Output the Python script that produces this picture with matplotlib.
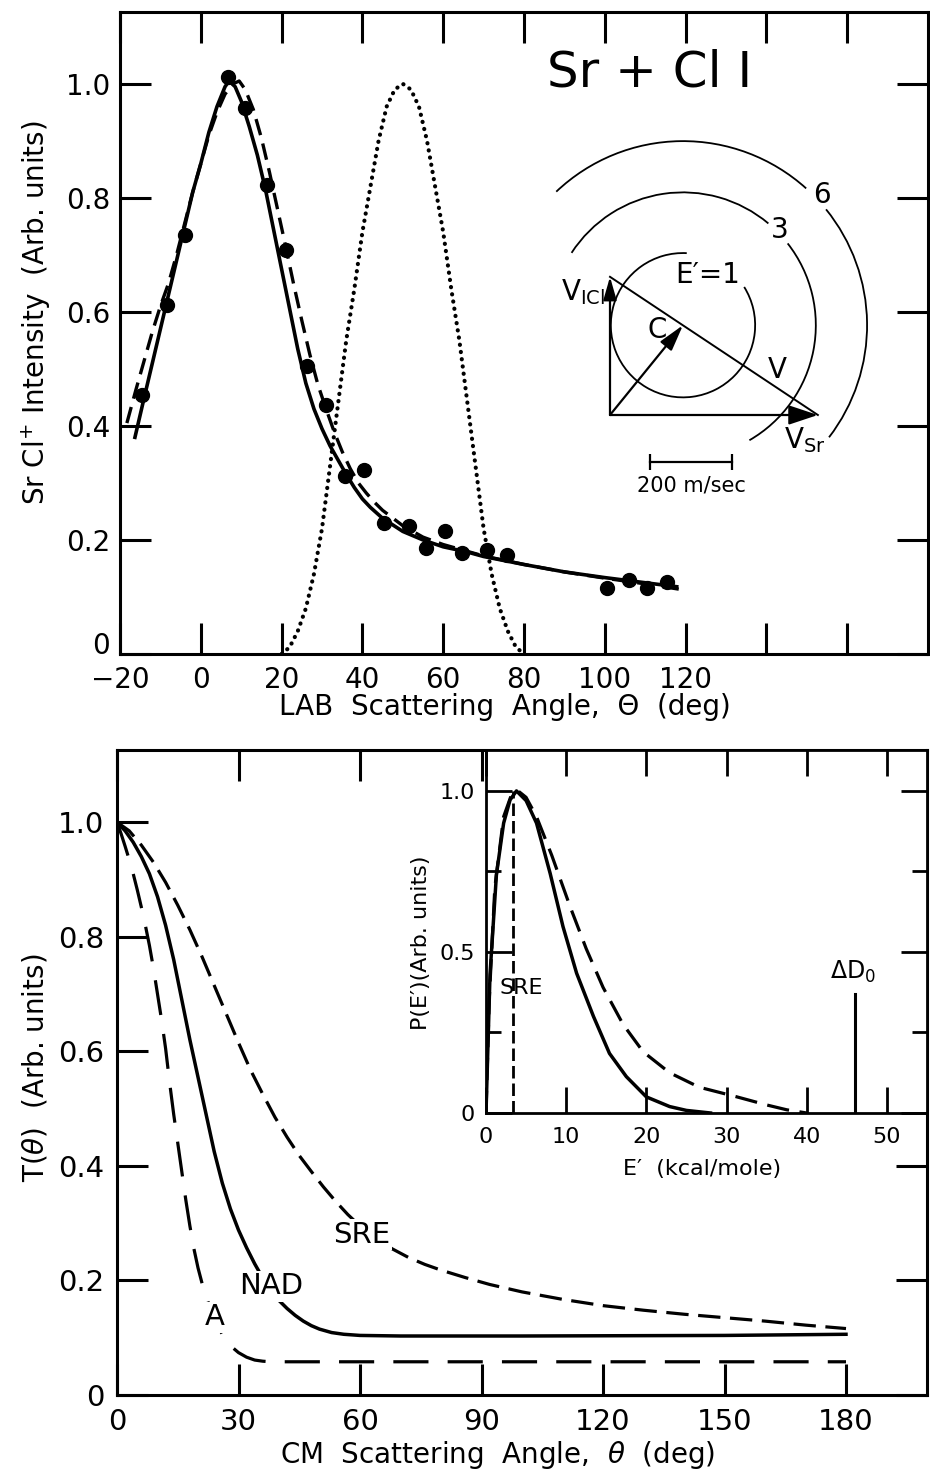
import matplotlib.pyplot as plt
from matplotlib.patches import Arc

plt.rcParams['font.family'] = ['DejaVu Sans']
plt.rcParams['mathtext.fontset'] = 'dejavusans'

W, H = 930, 1474

# ---------------- top panel: LAB angular distribution ----------------
lab_pts_angle = [-14.6, -8.4, -3.9, 6.7, 10.9, 16.5, 21.2, 26.2, 31.1, 35.6, 40.5,
                 45.4, 51.6, 55.8, 60.5, 64.7, 70.9, 75.8, 100.5, 105.9, 110.4, 115.3]
lab_pts_signal = [0.454, 0.612, 0.735, 1.012, 0.958, 0.823, 0.709, 0.505, 0.437, 0.312, 0.323,
                  0.23, 0.225, 0.186, 0.216, 0.177, 0.182, 0.174, 0.116, 0.13, 0.116, 0.126]

lab_fit_angle = [-16.3, -14, -12, -10, -8, -6, -4, -2, 0, 2, 4, 6, 7, 8.5, 10, 12, 14, 16, 18,
                 20, 22, 24, 26, 28, 30, 32, 34, 36, 38, 40, 42, 45, 50, 55, 60,
                 65.9, 70, 80, 90, 100, 110, 117.8]
lab_fit_signal = [0.38, 0.45, 0.51, 0.57, 0.63, 0.69, 0.75, 0.81, 0.86, 0.915, 0.96, 0.995, 1.005,
                  0.995, 0.97, 0.925, 0.875, 0.815, 0.745, 0.675, 0.605, 0.535, 0.475, 0.43,
                  0.395, 0.365, 0.34, 0.315, 0.292, 0.272, 0.257, 0.238, 0.215, 0.2, 0.188,
                  0.179, 0.171, 0.157, 0.144, 0.134, 0.125, 0.118]

lab_alt_angle = [-18.3, -16, -14, -12, -10, -8, -6, -4, -2, 0, 2, 4, 6, 8, 9.5, 11, 13, 15, 17,
                 19, 21, 23, 25, 27, 29, 31, 33, 35, 37, 39, 41, 43, 45, 50, 55, 60,
                 70, 80, 90, 100, 110, 119]
lab_alt_signal = [0.405, 0.465, 0.515, 0.565, 0.61, 0.65, 0.7, 0.755, 0.81, 0.86, 0.91, 0.95,
                  0.982, 1.0, 1.005, 0.99, 0.955, 0.905, 0.845, 0.78, 0.715, 0.648, 0.585,
                  0.525, 0.472, 0.43, 0.39, 0.355, 0.325, 0.3, 0.282, 0.266, 0.252, 0.225,
                  0.205, 0.192, 0.172, 0.157, 0.144, 0.133, 0.123, 0.113]

beam_angle = [20, 22, 24, 26, 28, 30, 32, 34, 36, 38, 40, 42, 44, 46, 48, 50,
              52, 54, 56, 58, 60, 62, 64, 66, 68, 70, 72, 74, 76, 78, 80]
beam_signal = [0, 0.012, 0.04, 0.08, 0.14, 0.22, 0.33, 0.44, 0.55, 0.64, 0.74, 0.82, 0.9, 0.96,
               0.99, 1.0, 0.99, 0.96, 0.9, 0.82, 0.74, 0.64, 0.55, 0.44, 0.33, 0.22, 0.14,
               0.08, 0.04, 0.012, 0]

lab_xticks = [-20, 0, 20, 40, 60, 80, 100, 120, 140, 160]
lab_xlabels = ['\u221220', '0', '20', '40', '60', '80', '100', '120', '', '']
int_yticks = [0, 0.2, 0.4, 0.6, 0.8, 1.0]
int_ylabels = ['0', '0.2', '0.4', '0.6', '0.8', '1.0']

# Newton diagram (m/sec)
v_sr = 507
v_icl = 337
v_cm = (178, 219)
e_levels = ['E\u2032=1', '3', '6']
e_radii = [176, 324, 449]

# ---------------- bottom panel: CM angular distribution ----------------
cm_a_angle = [0, 1, 2, 3, 4, 5, 6, 7, 8, 9, 10, 11, 12, 13, 14, 15, 16, 17, 18, 19, 20, 21,
              22, 23, 24, 25, 26, 27, 28, 30, 32, 34, 36, 38, 180]
cm_a_T = [1.0, 0.98, 0.958, 0.935, 0.91, 0.882, 0.852, 0.82, 0.785, 0.745, 0.7, 0.655, 0.605,
          0.545, 0.49, 0.44, 0.39, 0.34, 0.295, 0.255, 0.222, 0.195, 0.172, 0.152, 0.135,
          0.119, 0.106, 0.095, 0.086, 0.074, 0.066, 0.061, 0.059, 0.058, 0.058]

cm_nad_angle = [0, 2, 4, 6, 8, 10, 12, 14, 16, 18, 20, 22, 24, 26, 28, 30, 32, 34, 36, 38, 40,
                42, 44, 46, 48, 50, 53, 56, 60, 70, 100, 150, 180]
cm_nad_T = [1.0, 0.985, 0.965, 0.94, 0.91, 0.87, 0.82, 0.76, 0.69, 0.62, 0.555, 0.49, 0.425,
            0.37, 0.325, 0.288, 0.257, 0.229, 0.204, 0.183, 0.165, 0.151, 0.139, 0.129, 0.121,
            0.115, 0.109, 0.106, 0.104, 0.103, 0.103, 0.104, 0.106]

cm_sre_angle = [0, 3, 6, 9, 12, 15, 18, 21, 24, 27, 30, 33, 36, 39, 42, 45, 48, 51, 54, 57,
                60, 64, 68, 72, 76, 80, 86, 92, 100, 110, 120, 130, 140, 150, 160, 170, 180]
cm_sre_T = [1.0, 0.985, 0.96, 0.93, 0.895, 0.855, 0.812, 0.765, 0.715, 0.665, 0.615, 0.567,
            0.525, 0.485, 0.45, 0.418, 0.39, 0.363, 0.338, 0.315, 0.295, 0.273, 0.255, 0.24,
            0.228, 0.218, 0.205, 0.193, 0.18, 0.167, 0.156, 0.148, 0.141, 0.135, 0.129,
            0.122, 0.116]

cm_xticks = [0, 30, 60, 90, 120, 150, 180]
cm_xlabels = ['0', '30', '60', '90', '120', '150', '180']

# inset: translational energy distribution
pe_solid_E = [0, 0.5, 1.3, 2.2, 3, 3.8, 5, 6.3, 8, 9.6, 11.3, 13.4, 15.4, 17.5, 20, 22.9, 25, 28]
pe_solid_P = [0, 0.43, 0.74, 0.9, 0.972, 1.0, 0.97, 0.9, 0.744, 0.579, 0.434, 0.3, 0.185,
              0.113, 0.05, 0.02, 0.008, 0]
pe_dash_E = [0, 0.4, 1.1, 2.2, 3.2, 4, 5, 6.3, 8.2, 10.5, 12.5, 14.6, 17.1, 19.6, 22.9, 26.6,
             31.3, 35, 37.5, 40]
pe_dash_P = [0, 0.35, 0.7, 0.92, 0.99, 1.0, 0.98, 0.92, 0.8, 0.64, 0.51, 0.39, 0.275, 0.19,
             0.125, 0.08, 0.05, 0.025, 0.01, 0]
pe_sre_E = 3.4
pe_d0_E = 46
pe_d0_P = 0.37
pe_xticks = [0, 10, 20, 30, 40, 50]
pe_yticks = [0, 0.5, 1.0]
pe_ylabels = ['0', '0.5', '1.0']


def rect(x0, y0, x1, y1):
    return [x0 / W, 1 - y1 / H, (x1 - x0) / W, (y1 - y0) / H]


def style_axes(ax, length, labelsize, pad, width=2.2):
    for s in ax.spines.values():
        s.set_linewidth(width)
    ax.tick_params(which='major', direction='in', length=length, width=width,
                   top=True, right=True, labelsize=labelsize, pad=pad)


fig = plt.figure(figsize=(W / 100, H / 100), dpi=100)

# ---- top panel ----
ax1 = fig.add_axes(rect(120, 12, 928, 654))
ax1.plot(lab_fit_angle, lab_fit_signal, color='k', lw=2.6)
ax1.plot(lab_alt_angle, lab_alt_signal, color='k', lw=2.4, ls=(0, (5, 2.6)))
ax1.plot(beam_angle, beam_signal, color='k', lw=3.0, ls=(0, (0.05, 1.7)),
         dash_capstyle='round')
ax1.plot(lab_pts_angle, lab_pts_signal, 'o', color='k', ms=10)
ax1.set_xlim(-20, 180)
ax1.set_ylim(0, 1.126)
ax1.set_xticks(lab_xticks, lab_xlabels)
ax1.set_yticks(int_yticks, int_ylabels)
style_axes(ax1, 22, 20, 7)
ax1.tick_params(axis='x', pad=9)
# keep the y "0" clear of the "-20" below it
ax1.yaxis.get_major_ticks()[0].label1.set_va('baseline')
ax1.text(0.655, 0.905, 'Sr + Cl I', transform=ax1.transAxes, fontsize=36,
         ha='center', va='center')
fig.text(36 / W, 1 - 313 / H, 'Sr Cl$^{+}$ Intensity  (Arb. units)', rotation=90,
         fontsize=20, ha='center', va='center')
fig.text(505 / W, 1 - 707 / H, 'LAB  Scattering  Angle,  \u0398  (deg)', fontsize=20,
         ha='center', va='center')

# ---- Newton diagram ----
px = 0.41  # pixels per m/sec
axn = fig.add_axes(rect(540, 120, 880, 500))
axn.set_xlim((540 - 610) / px, (880 - 610) / px)
axn.set_ylim((415 - 500) / px, (415 - 120) / px)
axn.axis('off')
axn.patch.set_alpha(0)
arrow = dict(arrowstyle='-|>,head_length=0.9,head_width=0.3', lw=1.6, color='k',
             shrinkA=0, shrinkB=0, mutation_scale=20)
axn.annotate('', xy=(v_sr, 0), xytext=(0, 0), arrowprops=arrow)
axn.annotate('', xy=(0, v_icl), xytext=(0, 0),
             arrowprops=dict(arrow, arrowstyle='-|>,head_length=0.7,head_width=0.2'))
axn.annotate('', xy=v_cm, xytext=(0, 0),
             arrowprops=dict(arrow, arrowstyle='-|>,head_length=0.8,head_width=0.22'))
axn.plot([0, v_sr], [v_icl, 0], color='k', lw=1.4)
arc_spans = [[(87, 392)], [(-60, 38), (50, 147)], [(-37.5, 39), (48, 133.5)]]
for r, spans in zip(e_radii, arc_spans):
    for t1, t2 in spans:
        axn.add_patch(Arc(v_cm, 2 * r, 2 * r, theta1=t1, theta2=t2, lw=1.3, color='k'))
axn.text(239, 341, e_levels[0], fontsize=20, ha='center', va='center')
axn.text(415, 451, e_levels[1], fontsize=20, ha='center', va='center')
axn.text(517, 537, e_levels[2], fontsize=20, ha='center', va='center')
axn.text(-12, 300, 'V$_{\\rm ICl}$', fontsize=20, ha='right', va='center')
axn.text(115, 207, 'C', fontsize=20, ha='center', va='center')
axn.text(407, 110, 'V', fontsize=20, ha='center', va='center')
axn.text(476, -62, 'V$_{\\rm Sr}$', fontsize=20, ha='center', va='center')
axn.plot([98, 298], [-115, -115], color='k', lw=1.6, marker='|', ms=12, mew=1.6)
axn.text(198, -171, '200 m/sec', fontsize=15, ha='center', va='center')

# ---- bottom panel ----
ax2 = fig.add_axes(rect(117, 750, 927, 1395))
ax2.plot(cm_a_angle, cm_a_T, color='k', lw=2.3, ls=(0, (11, 6)))
ax2.plot(cm_nad_angle, cm_nad_T, color='k', lw=2.5)
ax2.plot(cm_sre_angle, cm_sre_T, color='k', lw=2.3, ls=(0, (7, 3)))
ax2.set_xlim(0, 200)
ax2.set_ylim(0, 1.126)
ax2.set_xticks(cm_xticks, cm_xlabels)
ax2.set_yticks(int_yticks, int_ylabels)
style_axes(ax2, 22, 21, 9)
lbl = dict(fontsize=21, ha='center', va='center',
           bbox=dict(facecolor='white', edgecolor='none', pad=1))
ax2.text(60.5, 0.28, 'SRE', **lbl)
ax2.text(38, 0.19, 'NAD', **lbl)
ax2.text(24.2, 0.136, 'A', **lbl)
fig.text(35 / W, 1 - 1068 / H, 'T($\\theta$)  (Arb. units)', rotation=90, fontsize=20,
         ha='center', va='center')
fig.text(498 / W, 1 - 1455 / H, 'CM  Scattering  Angle,  $\\theta$  (deg)', fontsize=20,
         ha='center', va='center')

# ---- inset ----
ax3 = fig.add_axes(rect(486, 750, 927, 1113))
ax3.set_facecolor('white')
ax3.plot(pe_solid_E, pe_solid_P, color='k', lw=2.5)
ax3.plot(pe_dash_E, pe_dash_P, color='k', lw=2.3, ls=(0, (7, 3.3)))
ax3.plot([pe_sre_E, pe_sre_E], [0, 1.0], color='k', lw=2.0, ls=(0, (4.5, 1.8)))
ax3.plot([pe_d0_E, pe_d0_E], [0, pe_d0_P], color='k', lw=2.2)
ax3.set_xlim(0, 55)
ax3.set_ylim(0, 1.127)
ax3.set_xticks(pe_xticks)
ax3.set_yticks(pe_yticks, pe_ylabels)
ax3.set_yticks([0.25, 0.75], minor=True)
style_axes(ax3, 19, 16, 8, width=2.0)
ax3.tick_params(which='minor', direction='in', length=11, width=2.0, left=True, right=True)
ax3.tick_params(axis='x', pad=10)
ax3.text(4.4, 0.388, 'SRE', fontsize=16, ha='center', va='center')
ax3.text(45.8, 0.437, '\u0394D$_0$', fontsize=17, ha='center', va='center')
fig.text(421 / W, 1 - 943 / H, 'P(E\u2032)(Arb. units)', rotation=90, fontsize=16,
         ha='center', va='center')
fig.text(702 / W, 1 - 1169 / H, 'E\u2032  (kcal/mole)', fontsize=16, ha='center', va='center')

fig.savefig('out.png', dpi=100)
